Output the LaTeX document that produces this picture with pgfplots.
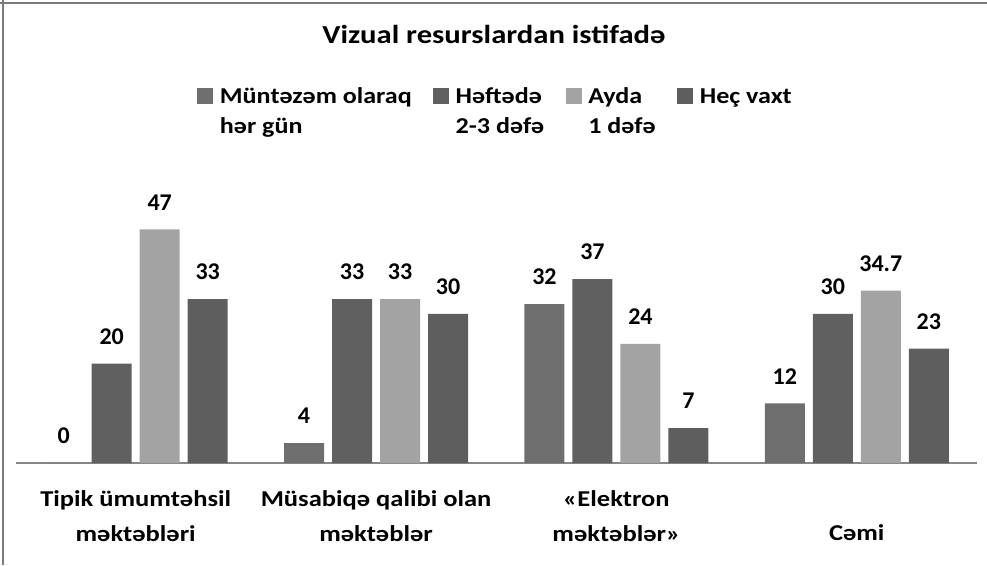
\documentclass[border=0pt]{standalone}
\usepackage{pgfplots}
\pgfplotsset{compat=1.18}
\usepackage{fontspec}
\setmainfont{Carlito}
\newfontfamily\lblfont{Carlito}[FakeStretch=1.17]
\newfontfamily\lgdfont{Carlito}[FakeStretch=1.15]
\newfontfamily\ttlfont{Carlito}[FakeStretch=1.18]
\newcommand{\lgcell}[1]{\begin{tabular}[b]{@{}l@{}}#1\end{tabular}}
\definecolor{sA}{HTML}{6E6E6E}
\definecolor{sB}{HTML}{606060}
\definecolor{sC}{HTML}{A3A3A3}
\definecolor{sD}{HTML}{5E5E5E}
\definecolor{axgray}{HTML}{868686}
\definecolor{framegray}{HTML}{7A7A7A}
\begin{document}
\begin{tikzpicture}
\useasboundingbox (0,0) rectangle (740.25pt,423.75pt);
\draw[framegray, line width=1.3pt] (0,421.5pt) -- (740.25pt,421.5pt);
\draw[framegray, line width=1.3pt] (2.25pt,0) -- (2.25pt,423.75pt);
\node[font=\ttlfont\fontsize{19.5}{22}\selectfont\bfseries, anchor=base, inner sep=0pt] at (370.5pt,390.75pt) {Vizual resurslardan istifadə};
\begin{axis}[
  at={(11.625pt,76.5pt)}, anchor=south west,
  scale only axis, width=721.1pt, height=223.6pt,
  xmin=-0.5, xmax=3.5, ymin=0, ymax=60,
  axis x line=bottom, axis y line=none,
  x axis line style={-, draw=axgray, line width=1.5pt},
  xtick={0,1,2,3},
  xticklabels={Tipik ümumtəhsil\\məktəbləri, Müsabiqə qalibi olan\\məktəblər, «Elektron\\məktəblər», \phantom{C}\\Cəmi},
  xticklabel style={align=center, font=\lblfont\fontsize{17}{26.25}\selectfont\bfseries, anchor=north, inner ysep=0pt, yshift=-20.5pt},
  major tick length=0pt,
  ybar=6pt, bar width=30pt,
  /pgf/number format/assume math mode=true,
  nodes near coords,
  every node near coord/.append style={font=\fontsize{18}{20}\selectfont\bfseries, text=black, anchor=south, inner ysep=0pt, yshift=14.25pt},
  legend columns=4,
  legend style={at={(0.1888,1.2878)}, anchor=north west, draw=none, fill=none, inner sep=0pt,
    font=\lgdfont\fontsize{17}{22.5}\selectfont\bfseries,
    cells={anchor=base west, inner xsep=0pt, inner ysep=0pt},
    /tikz/every odd column/.append style={column sep=3pt},
    /tikz/every even column/.append style={column sep=14pt}},
  legend image code/.code={\fill[#1] (0pt,22pt) rectangle (12pt,34pt);},
  clip=false,
]
\addplot[fill=sA, draw=none] coordinates {(0,0) (1,4) (2,32) (3,12)};
\addlegendentry{\lgcell{Müntəzəm olaraq\\hər gün}}
\addplot[fill=sB, draw=none] coordinates {(0,20) (1,33) (2,37) (3,30)};
\addlegendentry{\lgcell{Həftədə\\2-3 dəfə}}
\addplot[fill=sC, draw=none] coordinates {(0,47) (1,33) (2,24) (3,34.7)};
\addlegendentry{\lgcell{Ayda\\1 dəfə}}
\addplot[fill=sD, draw=none] coordinates {(0,33) (1,30) (2,7) (3,23)};
\addlegendentry{\lgcell{Heç vaxt\\\phantom{h}}}
\end{axis}
\end{tikzpicture}
\end{document}
